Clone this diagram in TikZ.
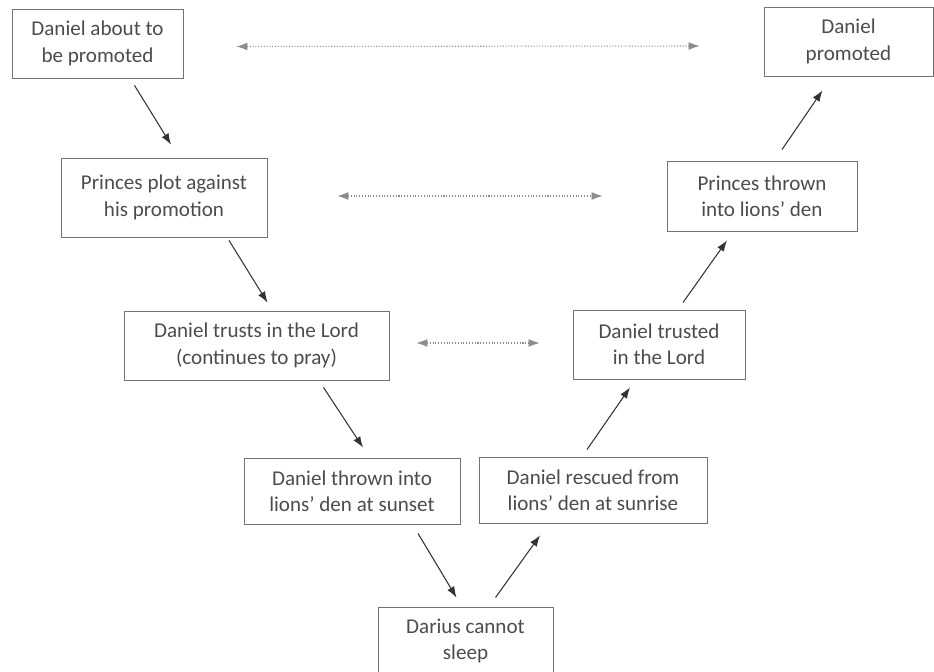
\documentclass[tikz,border=0pt]{standalone}
\usepackage{fontspec}
\setmainfont{Carlito}
\usepackage{tikz}
\usetikzlibrary{arrows.meta, calc, positioning}

\begin{document}
\begin{tikzpicture}[x=0.02cm, y=-0.02cm,
        box/.style={draw=black!55, line width=0.5pt, text=black!70, align=center, inner sep=0pt,
                    font=\fontsize{12}{15}\selectfont},
        arr/.style={-{Latex[length=2.2mm, width=1.6mm]}, draw=black!80, line width=0.6pt},
        link/.style={{Latex[length=2.2mm, width=1.6mm]}-{Latex[length=2.2mm, width=1.6mm]}, densely dotted, draw=black!45, line width=0.6pt}]
                                \useasboundingbox (0, 0) rectangle (934, 672);
                                \clip (0, 0) rectangle (934, 672);

                                \node[box, minimum width=3.42cm, minimum height=1.38cm] (1) at (97.5, 43.5) {Daniel about to\\be promoted};
                                \node[box, minimum width=3.38cm, minimum height=1.38cm] (2) at (848.5, 41.5) {Daniel\\promoted};
                                \node[box, minimum width=4.12cm, minimum height=1.58cm] (3) at (164, 197.5) {Princes plot against\\his promotion};
                                \node[box, minimum width=3.80cm, minimum height=1.40cm] (4) at (762, 196) {Princes thrown\\into lions’ den};
                                \node[box, minimum width=5.30cm, minimum height=1.38cm] (5) at (256.5, 345.5) {Daniel trusts in the Lord\\(continues to pray)};
                                \node[box, minimum width=3.44cm, minimum height=1.38cm] (6) at (659, 344.5) {Daniel trusted\\in the Lord};
                                \node[box, minimum width=4.32cm, minimum height=1.32cm] (7) at (352, 491) {Daniel thrown into\\lions’ den at sunset};
                                \node[box, minimum width=4.56cm, minimum height=1.32cm] (8) at (593, 490) {Daniel rescued from\\lions’ den at sunrise};
                                \node[box, minimum width=3.50cm, minimum height=1.36cm] (9) at (465.5, 641) {Darius cannot\\sleep};

                                % down the left side
                                \draw[arr] ($(1.south)+(37,7)$) -- ($(3.north)+(7,-13)$);
                                \draw[arr] ($(3.south)+(65,3)$) -- ($(5.north)+(11,-8)$);
                                \draw[arr] ($(5.south)+(67,7)$) -- ($(7.north)+(11,-10)$);
                                \draw[arr] ($(7.south)+(66,9)$) -- ($(9.north)+(-9,-9)$);

                                % up the right side
                                \draw[arr] ($(9.north)+(30,-9)$) -- ($(8.south)+(-53,12)$);
                                \draw[arr] ($(8.north)+(-6,-7)$) -- ($(6.south)+(-29,8)$);
                                \draw[arr] ($(6.north)+(24,-7)$) -- ($(4.south)+(-35,9)$);
                                \draw[arr] ($(4.north)+(20,-11)$) -- ($(2.south)+(-26,14)$);

                                % matching pairs
                                \draw[link] ($(1.east)+(53,3)$) -- ($(2.west)+(-64,4.5)$);
                                \draw[link] ($(3.east)+(70,-1.5)$) -- ($(4.west)+(-64,0)$);
                                \draw[link] ($(5.east)+(27,-2.5)$) -- ($(6.west)+(-33,-1.5)$);
                            \end{tikzpicture}
\end{document}
